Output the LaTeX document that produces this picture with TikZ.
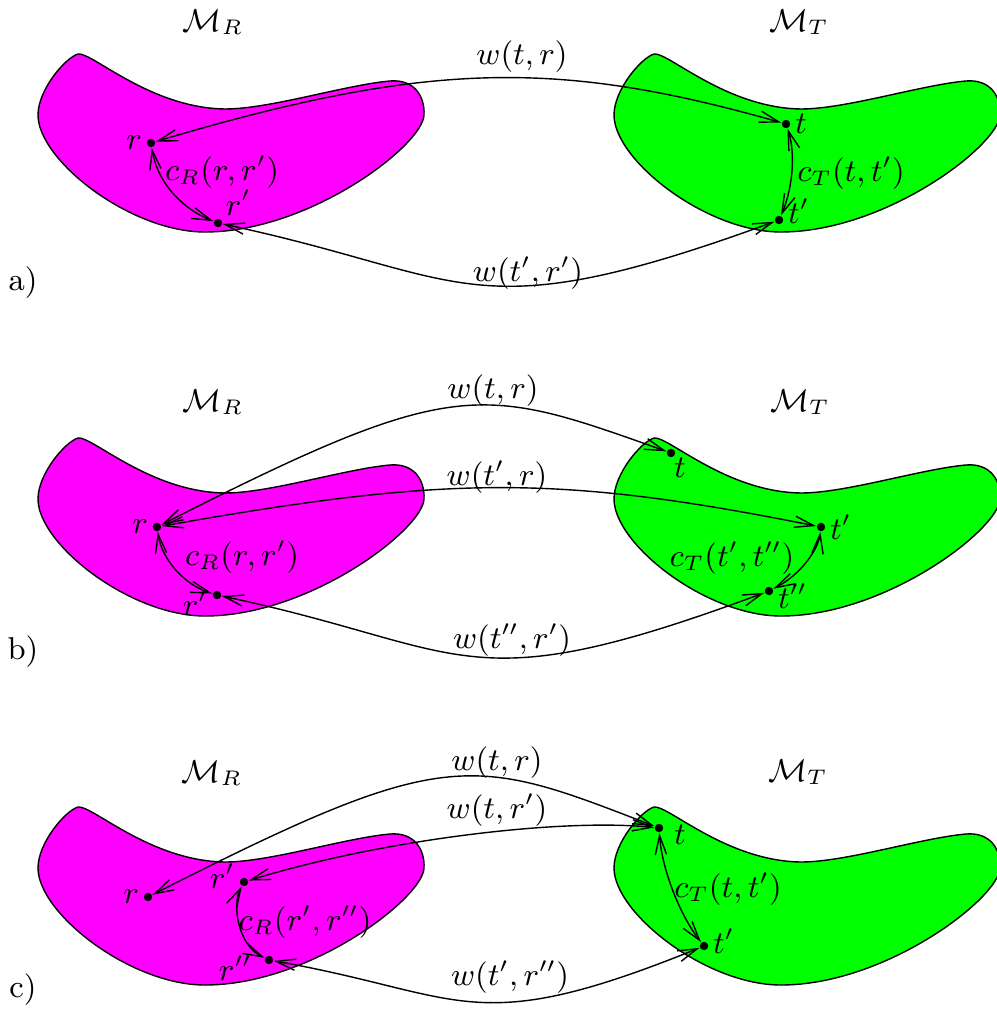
\documentclass[tikz,border=0pt]{standalone}
\usetikzlibrary{arrows.meta}
\definecolor{regm}{RGB}{255,0,255}
\definecolor{regt}{RGB}{0,255,0}
\newcommand{\blobpath}{(78,54) .. controls (92,52) and (150,108) .. (225,109)
  .. controls (270,109) and (345,85) .. (390,81)
  .. controls (414,79) and (425,96) .. (424,115)
  .. controls (423,145) and (310,232) .. (205,232)
  .. controls (130,232) and (38,160) .. (38,115)
  .. controls (38,90) and (65,58) .. cycle}
\tikzset{
  pt/.style={circle,fill,inner sep=0pt,minimum size=2.4pt},
  link/.style={<->,>={Straight Barb[length=5.5pt,width=3.2pt]}},
  every label/.style={inner sep=1pt}
}
\begin{document}
\begin{tikzpicture}[x=0.01cm,y=-0.01cm,font=\small]
  \useasboundingbox (0,0) rectangle (996,1016);
  % the two manifolds in each row
  \foreach \dy in {0,384,753}{
    \filldraw[fill=regm,shift={(0,\dy)}] \blobpath;
    \filldraw[fill=regt,shift={(576,\dy)}] \blobpath;
  }

  % a)
  \node (mra) at (213,22) {$\mathcal{M}_R$};
  \node (mta) at (799,22) {$\mathcal{M}_T$};
  \node[pt,label=left:$r$] (ra) at (151,143) {};
  \node[pt,label=above right:$r'$] (rpa) at (218,223) {};
  \node[pt,label=right:$t$] (ta) at (786,124) {};
  \node[pt,label={[yshift=2.5pt]right:$t'$}] (tpa) at (779,220) {};
  \draw[link] (ta) .. controls (560,60) and (430,60) .. (ra);
  \draw[link] (rpa) .. controls (472,277) and (469,333) .. (tpa);
  \draw[link] (ra) .. controls (158,185) and (185,210) .. (rpa);
  \draw[link] (ta) .. controls (796,155) and (792,190) .. (tpa);
  \node (wtra) at (522,57) {$w(t,r)$};
  \node (wtpa) at (528,273) {$w(t',r')$};
  \node (cra) at (222,172) {$c_R(r,r')$};
  \node (cta) at (851,173) {$c_T(t,t')$};
  \node (pa) at (23,283) {a)};

  % b)
  \node (mrb) at (213,402) {$\mathcal{M}_R$};
  \node (mtb) at (800,402) {$\mathcal{M}_T$};
  \node[pt,label=left:$r$] (rb) at (157,527) {};
  \node[pt,label={[yshift=-2.3pt]left:$r'$}] (rpb) at (217,595) {};
  \node[pt,label={[inner sep=0pt]-60:$t$}] (tb) at (671,453) {};
  \node[pt,label=right:$t'$] (tpb) at (821,527) {};
  \node[pt,label={[yshift=-1.5pt]right:$t''$}] (tppb) at (769,591) {};
  \draw[link] (rb) .. controls (456,375) and (480,385) .. (tb);
  \draw[link] (rb) .. controls (450,475) and (560,475) .. (tpb);
  \draw[link] (rpb) .. controls (472,649) and (462,705) .. (tppb);
  \draw[link] (rb) .. controls (162,560) and (185,585) .. (rpb);
  \draw[link] (tpb) .. controls (818,550) and (800,575) .. (tppb);
  \node (wtrb) at (493,391) {$w(t,r)$};
  \node (wtpb) at (497,477) {$w(t',r)$};
  \node (wtppb) at (512,640) {$w(t'',r')$};
  \node (crb) at (242,557) {$c_R(r,r')$};
  \node (ctb) at (732,558) {$c_T(t',t'')$};
  \node (pb) at (23,652) {b)};

  % c)
  \node (mrc) at (212,773) {$\mathcal{M}_R$};
  \node (mtc) at (798,772) {$\mathcal{M}_T$};
  \node[pt,label=left:$r$] (rc) at (148,897) {};
  \node[pt,label={[yshift=1.7pt]left:$r'$}] (rpc) at (244,882) {};
  \node[pt,label={[xshift=-2.3pt,yshift=-2.3pt]left:$r''$}] (rppc) at (269,960) {};
  \node[pt,label={[xshift=1.7pt,yshift=-2pt]right:$t$}] (tc) at (659,828) {};
  \node[pt,label={[yshift=1.4pt]right:$t'$}] (tpc) at (704,946) {};
  \draw[link] (rc) .. controls (447,745) and (471,755) .. (tc);
  \draw[link] (rpc) .. controls (380,840) and (560,818) .. (tc);
  \draw[link] (rppc) .. controls (466,995) and (472,1040) .. (tpc);
  \draw[link] (rpc) .. controls (232,905) and (238,945) .. (rppc);
  \draw[link] (tc) .. controls (662,870) and (680,915) .. (tpc);
  \node (wtrc) at (497,763) {$w(t,r)$};
  \node (wtrpc) at (497,810) {$w(t,r')$};
  \node (wtpc) at (510,977) {$w(t',r'')$};
  \node (crc) at (305,922) {$c_R(r',r'')$};
  \node (ctc) at (728,889) {$c_T(t,t')$};
  \node (pc) at (23,990) {c)};
\end{tikzpicture}
\end{document}
